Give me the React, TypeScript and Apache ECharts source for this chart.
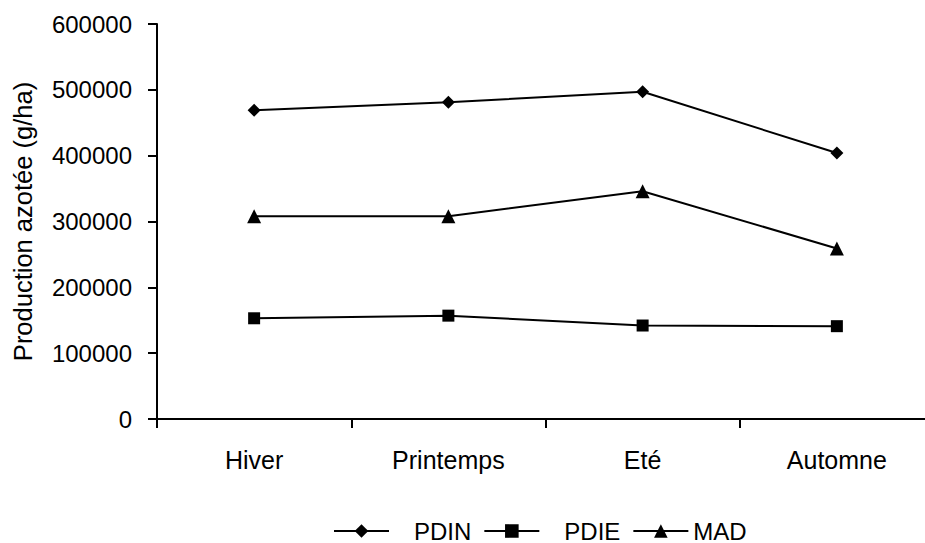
import React, { useEffect, useRef } from "react";
import * as echarts from "echarts";

const categories = ["Hiver", "Printemps", "Eté", "Automne"];
const pdin = [469000, 481000, 497000, 404000];
const pdie = [153000, 157000, 142000, 141000];
const mad = [308000, 308000, 346000, 259000];
const yTicks = { min: 0, max: 600000, interval: 100000 };

const FONT = "'Liberation Sans', Arial, sans-serif";

export default function App() {
  const ref = useRef<HTMLDivElement>(null);
  useEffect(() => {
    if (!ref.current) return;
    const chart = echarts.init(ref.current, undefined, { renderer: "svg" });
    const lineCommon = {
      type: "line",
      color: "#000",
      lineStyle: { color: "#000", width: 2 },
      itemStyle: { color: "#000" },
    };
    chart.setOption({
      animation: false,
      backgroundColor: "#fff",
      textStyle: { fontFamily: FONT },
      grid: {
        left: 157,
        top: 24,
        width: 777,
        height: 395,
        containLabel: false,
        outerBoundsMode: "none",
      },
      legend: {
        left: 333,
        top: 519,
        padding: 0,
        itemWidth: 55,
        itemHeight: 17,
        itemGap: 12,
        textStyle: { fontFamily: FONT, fontSize: 24, color: "#000" },
        data: [
          { name: "PDIN", textStyle: { padding: [0, 0, 0, 20] } },
          { name: "PDIE", textStyle: { padding: [0, 0, 0, 20] } },
          { name: "MAD", textStyle: { padding: [0, 0, 0, 0] } },
        ],
      },
      xAxis: {
        type: "category",
        data: categories,
        boundaryGap: true,
        axisLine: { lineStyle: { color: "#000", width: 2 } },
        axisTick: { show: true, length: 9, lineStyle: { color: "#000", width: 2 } },
        axisLabel: { color: "#000", fontSize: 25, margin: 28, fontFamily: FONT },
        splitLine: { show: false },
      },
      yAxis: {
        type: "value",
        min: yTicks.min,
        max: yTicks.max,
        interval: yTicks.interval,
        name: "Production azotée (g/ha)",
        nameLocation: "middle",
        nameGap: 121,
        nameRotate: 90,
        nameTextStyle: { color: "#000", fontSize: 25.5, fontFamily: FONT },
        axisLine: { show: true, lineStyle: { color: "#000", width: 2 } },
        axisTick: { show: true, length: 9, lineStyle: { color: "#000", width: 2 } },
        axisLabel: {
          color: "#000",
          fontSize: 24,
          margin: 25,
          fontFamily: FONT,
          formatter: (v: number) => String(v),
        },
        splitLine: { show: false },
      },
      series: [
        { ...lineCommon, name: "PDIN", data: pdin, symbol: "diamond", symbolSize: 13 },
        { ...lineCommon, name: "PDIE", data: pdie, symbol: "rect", symbolSize: 12 },
        { ...lineCommon, name: "MAD", data: mad, symbol: "triangle", symbolSize: 14 },
      ],
    });
    return () => chart.dispose();
  }, []);
  return <div ref={ref} style={{ width: 925, height: 543, position: "absolute", left: 0, top: 0 }} />;
}
